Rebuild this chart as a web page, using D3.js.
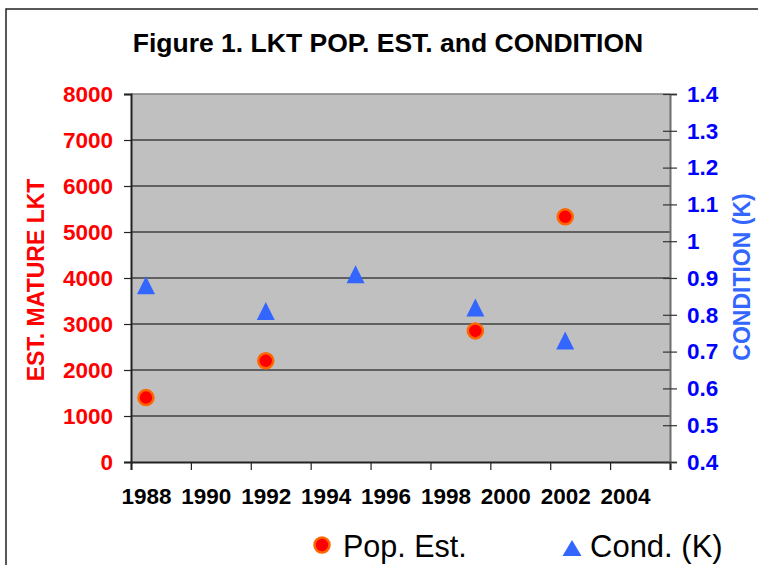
<!DOCTYPE html>
<html>
<head>
<meta charset="utf-8">
<script src="https://cdn.jsdelivr.net/npm/d3@7"></script>
<style>
  body { margin: 0; background: #fff; }
  svg { display: block; font-family: "Liberation Sans", Arial, sans-serif; }
</style>
</head>
<body>
<div id="wrapper"></div>
<script>
// data
const popYears = [1988, 1992, 1999, 2002]
const popValues = [1400, 2200, 2850, 5330]
const condYears = [1988, 1992, 1995, 1999, 2002]
const condValues = [0.88, 0.81, 0.91, 0.82, 0.73]
const yearLabels = [1988, 1990, 1992, 1994, 1996, 1998, 2000, 2002, 2004]
const popTicks = [0, 1000, 2000, 3000, 4000, 5000, 6000, 7000, 8000]
const condTicks = [0.4, 0.5, 0.6, 0.7, 0.8, 0.9, 1, 1.1, 1.2, 1.3, 1.4]

function drawChart() {

    // 1. Dimensions
    let dimensions = {
        width: 758,
        height: 565,
        margin: { top: 94, right: 88, bottom: 103, left: 131 },
    }
    dimensions.boundedWidth = dimensions.width - dimensions.margin.left - dimensions.margin.right
    dimensions.boundedHeight = dimensions.height - dimensions.margin.top - dimensions.margin.bottom

    const tickFont = "22.5px"

    // 2. Canvas
    const wrapper = d3.select("#wrapper")
        .append("svg")
        .attr("width", dimensions.width)
        .attr("height", dimensions.height)

    // outer chart frame (runs off the picture on the right and bottom)
    wrapper.append("rect")
        .attr("x", 6).attr("y", 9)
        .attr("width", 800).attr("height", 600)
        .attr("fill", "none")
        .attr("stroke", "#222")
        .attr("stroke-width", 1.5)

    wrapper.append("text")
        .attr("x", 388)
        .attr("y", 52)
        .attr("text-anchor", "middle")
        .style("font-size", "26.5px")
        .style("font-weight", "bold")
        .text("Figure 1. LKT POP. EST. and CONDITION")

    const bounds = wrapper.append("g")
        .attr("transform", `translate(${dimensions.margin.left},${dimensions.margin.top})`)

    // 3. Scales
    const xScale = d3.scaleLinear()
        .domain([yearLabels[0] - 0.5, yearLabels[yearLabels.length - 1] + 1.5])
        .range([0, dimensions.boundedWidth])

    const yScale = d3.scaleLinear()
        .domain([popTicks[0], popTicks[popTicks.length - 1]])
        .range([dimensions.boundedHeight, 0])

    const y2Scale = d3.scaleLinear()
        .domain([condTicks[0], condTicks[condTicks.length - 1]])
        .range([dimensions.boundedHeight, 0])

    // 4. Plot area + gridlines
    bounds.append("rect")
        .attr("width", dimensions.boundedWidth)
        .attr("height", dimensions.boundedHeight)
        .attr("fill", "#c0c0c0")

    bounds.append("g")
        .selectAll("line")
        .data(popTicks.slice(1, -1))
        .join("line")
        .attr("x1", 0).attr("x2", dimensions.boundedWidth)
        .attr("y1", d => yScale(d)).attr("y2", d => yScale(d))
        .attr("stroke", "#000")
        .attr("stroke-width", 1.2)

    // top border of the plot area
    bounds.append("line")
        .attr("x1", 0).attr("x2", dimensions.boundedWidth)
        .attr("y1", 0).attr("y2", 0)
        .attr("stroke", "#808080").attr("stroke-width", 1.5)

    // 5. Axes
    const xTickAxis = bounds.append("g")
        .attr("transform", `translate(0,${dimensions.boundedHeight})`)
        .call(d3.axisBottom(xScale)
            .tickValues(yearLabels.map(d => d - 0.5).concat([yearLabels[yearLabels.length - 1] + 1.5]))
            .tickSize(8)
            .tickFormat(""))
    xTickAxis.select(".domain").attr("stroke", "#222").attr("stroke-width", 2)
    xTickAxis.selectAll(".tick line").attr("stroke", "#222").attr("stroke-width", 1.2)

    const xLabelAxis = bounds.append("g")
        .attr("transform", `translate(0,${dimensions.boundedHeight})`)
        .call(d3.axisBottom(xScale)
            .tickValues(yearLabels)
            .tickSize(0)
            .tickPadding(26)
            .tickFormat(d => d))
    xLabelAxis.select(".domain").remove()
    xLabelAxis.selectAll("text")
        .attr("fill", "#000")
        .style("font-size", tickFont)
        .style("font-weight", "bold")
        .style("font-family", "'Liberation Sans', Arial, sans-serif")

    const yAxis = bounds.append("g")
        .call(d3.axisLeft(yScale)
            .tickValues(popTicks)
            .tickSize(7)
            .tickPadding(11)
            .tickFormat(d => d))
    yAxis.select(".domain").attr("stroke", "#222").attr("stroke-width", 2)
    yAxis.selectAll(".tick line").attr("stroke", "#222").attr("stroke-width", 1.2)
    yAxis.selectAll("text")
        .attr("fill", "#ff0000")
        .style("font-size", tickFont)
        .style("font-weight", "bold")
        .style("font-family", "'Liberation Sans', Arial, sans-serif")

    const y2Axis = bounds.append("g")
        .attr("transform", `translate(${dimensions.boundedWidth},0)`)
        .call(d3.axisRight(y2Scale)
            .tickValues(condTicks)
            .tickSize(7)
            .tickPadding(10)
            .tickFormat(d => d))
    y2Axis.select(".domain").attr("stroke", "#6e6e6e").attr("stroke-width", 2)
    y2Axis.selectAll(".tick line").attr("x1", -7).attr("stroke", "#333").attr("stroke-width", 1.2)
    y2Axis.selectAll("text")
        .attr("fill", "#0000ff")
        .style("font-size", tickFont)
        .style("font-weight", "bold")
        .style("font-family", "'Liberation Sans', Arial, sans-serif")

    wrapper.append("text")
        .attr("transform", "translate(36,280) rotate(-90)")
        .attr("dy", "0.35em")
        .attr("text-anchor", "middle")
        .attr("fill", "#ff0000")
        .style("font-size", "23px")
        .style("font-weight", "bold")
        .text("EST. MATURE LKT")

    wrapper.append("text")
        .attr("transform", "translate(742,277) rotate(-90)")
        .attr("dy", "0.35em")
        .attr("text-anchor", "middle")
        .attr("fill", "#3366ff")
        .style("font-size", "23px")
        .style("font-weight", "bold")
        .text("CONDITION (K)")

    // 6. Marks
    const triangle = s => `M0,${-s / 2}L${s / 2},${s / 2}L${-s / 2},${s / 2}Z`

    bounds.append("g")
        .selectAll("path")
        .data(condYears.map((d, i) => [d, condValues[i]]))
        .join("path")
        .attr("d", triangle(18))
        .attr("transform", d => `translate(${xScale(d[0])},${y2Scale(d[1])})`)
        .attr("fill", "#3366ff")

    bounds.append("g")
        .selectAll("circle")
        .data(popYears.map((d, i) => [d, popValues[i]]))
        .join("circle")
        .attr("cx", d => xScale(d[0]))
        .attr("cy", d => yScale(d[1]))
        .attr("r", 7.5)
        .attr("fill", "#ff0000")
        .attr("stroke", "#ff6600")
        .attr("stroke-width", 2.5)

    // 7. Legend
    const legend = wrapper.append("g")
    legend.append("circle")
        .attr("cx", 322).attr("cy", 545).attr("r", 7.5)
        .attr("fill", "#ff0000").attr("stroke", "#ff6600").attr("stroke-width", 2.5)
    legend.append("text")
        .attr("x", 343).attr("y", 557)
        .style("font-size", "30.5px")
        .text("Pop. Est.")
    legend.append("path")
        .attr("d", "M0,-8L9.5,8L-9.5,8Z")
        .attr("transform", "translate(572,548)")
        .attr("fill", "#3366ff")
    legend.append("text")
        .attr("x", 590).attr("y", 557)
        .style("font-size", "31px")
        .text("Cond. (K)")
}
drawChart()
</script>
</body>
</html>
